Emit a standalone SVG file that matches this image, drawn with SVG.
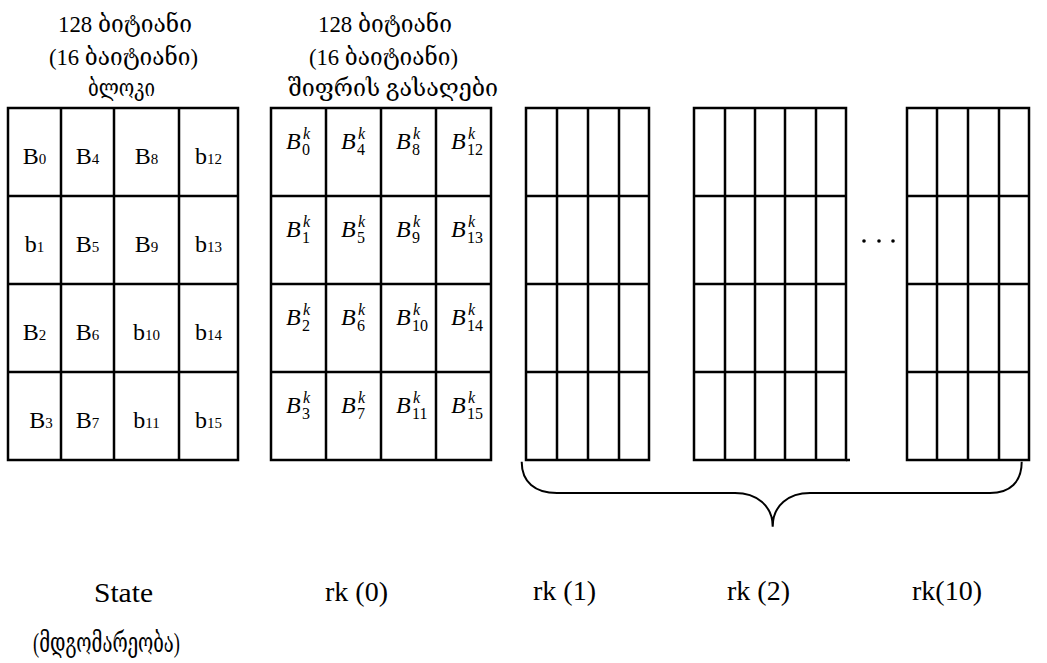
<svg xmlns="http://www.w3.org/2000/svg" width="1047" height="663" viewBox="0 0 1047 663">
<style>
.grid rect,.grid line{stroke:#000;stroke-width:2.5;fill:none}
.hdr{font-family:"Liberation Serif","DejaVu Serif",serif;font-size:24px;text-anchor:middle;fill:#000}
.cell{font-family:"Liberation Serif",serif;font-size:24px;text-anchor:middle;fill:#000}
.sm{font-size:15px}
.mb{font-family:"Liberation Serif",serif;font-style:italic;font-size:24px;fill:#000}
.mk{font-style:italic;font-size:16px}
.ms{font-style:normal;font-size:16px}
.lbl{font-family:"Liberation Serif","DejaVu Serif",serif;font-size:28px;fill:#000}
.brace{stroke:#000;stroke-width:2;fill:none}
</style>
<rect width="1047" height="663" fill="#fff"/>

<g id="header-block">
<text class="hdr" x="125" y="32" textLength="134" lengthAdjust="spacingAndGlyphs">128 ბიტიანი</text>
<text class="hdr" x="123.5" y="65" textLength="149" lengthAdjust="spacingAndGlyphs">(16 ბაიტიანი)</text>
<text class="hdr" x="121.5" y="96" textLength="67" lengthAdjust="spacingAndGlyphs">ბლოკი</text>
</g>
<g id="header-key">
<text class="hdr" x="385" y="32" textLength="134" lengthAdjust="spacingAndGlyphs">128 ბიტიანი</text>
<text class="hdr" x="383.5" y="65" textLength="149" lengthAdjust="spacingAndGlyphs">(16 ბაიტიანი)</text>
<text class="hdr" x="393" y="96" textLength="210" lengthAdjust="spacingAndGlyphs">შიფრის გასაღები</text>
</g>

<g id="state-grid" class="grid">
<rect x="8" y="108" width="230" height="352"/>
<line x1="61" y1="108" x2="61" y2="460"/><line x1="114" y1="108" x2="114" y2="460"/><line x1="179" y1="108" x2="179" y2="460"/>
<line x1="8" y1="196" x2="238" y2="196"/><line x1="8" y1="284" x2="238" y2="284"/><line x1="8" y1="372" x2="238" y2="372"/>
<text class="cell" x="34.5" y="164">B<tspan class="sm">0</tspan></text>
<text class="cell" x="87.5" y="164">B<tspan class="sm">4</tspan></text>
<text class="cell" x="146.5" y="164">B<tspan class="sm">8</tspan></text>
<text class="cell" x="208.5" y="164">b<tspan class="sm">12</tspan></text>
<text class="cell" x="34.5" y="252">b<tspan class="sm">1</tspan></text>
<text class="cell" x="87.5" y="252">B<tspan class="sm">5</tspan></text>
<text class="cell" x="146.5" y="252">B<tspan class="sm">9</tspan></text>
<text class="cell" x="208.5" y="252">b<tspan class="sm">13</tspan></text>
<text class="cell" x="34.5" y="340">B<tspan class="sm">2</tspan></text>
<text class="cell" x="87.5" y="340">B<tspan class="sm">6</tspan></text>
<text class="cell" x="146.5" y="340">b<tspan class="sm">10</tspan></text>
<text class="cell" x="208.5" y="340">b<tspan class="sm">14</tspan></text>
<text class="cell" x="41" y="428">B<tspan class="sm">3</tspan></text>
<text class="cell" x="87.5" y="428">B<tspan class="sm">7</tspan></text>
<text class="cell" x="146.5" y="428">b<tspan class="sm">11</tspan></text>
<text class="cell" x="208.5" y="428">b<tspan class="sm">15</tspan></text>
</g>

<g id="key-grid" class="grid">
<rect x="271" y="108" width="220" height="352"/>
<line x1="326" y1="108" x2="326" y2="460"/><line x1="381" y1="108" x2="381" y2="460"/><line x1="436" y1="108" x2="436" y2="460"/>
<line x1="271" y1="196" x2="491" y2="196"/><line x1="271" y1="284" x2="491" y2="284"/><line x1="271" y1="372" x2="491" y2="372"/>
<text class="mb" x="286" y="149">B<tspan class="mk" x="303" y="139">k</tspan><tspan class="ms" x="302" y="155">0</tspan></text>
<text class="mb" x="341" y="149">B<tspan class="mk" x="358" y="139">k</tspan><tspan class="ms" x="357" y="155">4</tspan></text>
<text class="mb" x="396" y="149">B<tspan class="mk" x="413" y="139">k</tspan><tspan class="ms" x="412" y="155">8</tspan></text>
<text class="mb" x="451" y="149">B<tspan class="mk" x="468" y="139">k</tspan><tspan class="ms" x="467" y="155">12</tspan></text>
<text class="mb" x="286" y="237">B<tspan class="mk" x="303" y="227">k</tspan><tspan class="ms" x="302" y="243">1</tspan></text>
<text class="mb" x="341" y="237">B<tspan class="mk" x="358" y="227">k</tspan><tspan class="ms" x="357" y="243">5</tspan></text>
<text class="mb" x="396" y="237">B<tspan class="mk" x="413" y="227">k</tspan><tspan class="ms" x="412" y="243">9</tspan></text>
<text class="mb" x="451" y="237">B<tspan class="mk" x="468" y="227">k</tspan><tspan class="ms" x="467" y="243">13</tspan></text>
<text class="mb" x="286" y="325">B<tspan class="mk" x="303" y="315">k</tspan><tspan class="ms" x="302" y="331">2</tspan></text>
<text class="mb" x="341" y="325">B<tspan class="mk" x="358" y="315">k</tspan><tspan class="ms" x="357" y="331">6</tspan></text>
<text class="mb" x="396" y="325">B<tspan class="mk" x="413" y="315">k</tspan><tspan class="ms" x="412" y="331">10</tspan></text>
<text class="mb" x="451" y="325">B<tspan class="mk" x="468" y="315">k</tspan><tspan class="ms" x="467" y="331">14</tspan></text>
<text class="mb" x="286" y="413">B<tspan class="mk" x="303" y="403">k</tspan><tspan class="ms" x="302" y="419">3</tspan></text>
<text class="mb" x="341" y="413">B<tspan class="mk" x="358" y="403">k</tspan><tspan class="ms" x="357" y="419">7</tspan></text>
<text class="mb" x="396" y="413">B<tspan class="mk" x="413" y="403">k</tspan><tspan class="ms" x="412" y="419">11</tspan></text>
<text class="mb" x="451" y="413">B<tspan class="mk" x="468" y="403">k</tspan><tspan class="ms" x="467" y="419">15</tspan></text>
</g>

<g id="rk1-grid" class="grid">
<rect x="526" y="108" width="123" height="352"/>
<line x1="557" y1="108" x2="557" y2="460"/><line x1="588" y1="108" x2="588" y2="460"/><line x1="619" y1="108" x2="619" y2="460"/>
<line x1="526" y1="196" x2="649" y2="196"/><line x1="526" y1="284" x2="649" y2="284"/><line x1="526" y1="372" x2="649" y2="372"/>
</g>

<g id="rk2-grid" class="grid">
<rect x="694" y="108" width="152" height="352"/>
<line x1="725" y1="108" x2="725" y2="460"/><line x1="755" y1="108" x2="755" y2="460"/><line x1="785" y1="108" x2="785" y2="460"/><line x1="816" y1="108" x2="816" y2="460"/>
<line x1="694" y1="196" x2="846" y2="196"/><line x1="694" y1="284" x2="846" y2="284"/><line x1="694" y1="372" x2="846" y2="372"/>
<line x1="846" y1="460" x2="850" y2="460"/>
</g>

<g id="ellipsis">
<circle cx="864" cy="241" r="1.8" fill="#000"/><circle cx="879" cy="241" r="1.8" fill="#000"/><circle cx="893" cy="241" r="1.8" fill="#000"/>
</g>

<g id="rk10-grid" class="grid">
<rect x="907" y="108" width="122" height="352"/>
<line x1="937" y1="108" x2="937" y2="460"/><line x1="968" y1="108" x2="968" y2="460"/><line x1="999" y1="108" x2="999" y2="460"/>
<line x1="907" y1="196" x2="1029" y2="196"/><line x1="907" y1="284" x2="1029" y2="284"/><line x1="907" y1="372" x2="1029" y2="372"/>
</g>

<g id="connectors">
<path class="brace" d="M521.7,461.7 C521.7,482 535,493 557,493 L735,493 C756,493 772.7,505 772.7,526.7 C772.7,505 789,493 810,493 L990,493 C1010,493 1021.7,482 1021.7,461.7"/>
</g>

<g id="labels">
<text class="lbl" x="94" y="602" textLength="59" lengthAdjust="spacingAndGlyphs">State</text>
<text class="lbl" x="325" y="601">rk (0)</text>
<text class="lbl" x="533" y="600">rk (1)</text>
<text class="lbl" x="727" y="600">rk (2)</text>
<text class="lbl" x="912" y="600">rk(10)</text>
<text class="lbl" x="33" y="652" font-size="24" textLength="147" lengthAdjust="spacingAndGlyphs">(მდგომარეობა)</text>
</g>
</svg>
